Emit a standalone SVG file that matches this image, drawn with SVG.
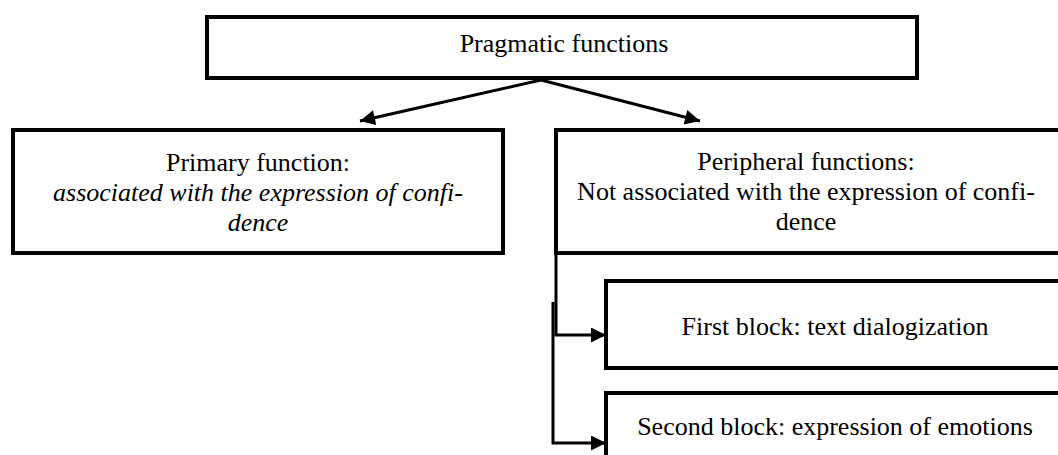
<svg xmlns="http://www.w3.org/2000/svg" width="1058" height="455" viewBox="0 0 1058 455">
  <defs>
    <style>
      .box { fill: #ffffff; stroke: #000000; stroke-width: 4; }
      .t { font-size: 26px; fill: #000000; text-anchor: middle; }
      .it { font-style: italic; }
      .conn { fill: none; stroke: #000000; stroke-width: 3; }
    </style>
    <marker id="arrow" viewBox="0 0 10 10" refX="10" refY="5" markerWidth="6" markerHeight="5" markerUnits="strokeWidth" orient="auto">
      <path d="M0,0 L10,5 L0,10 Z" fill="#000000"/>
    </marker>
  </defs>
  <rect width="1058" height="455" fill="#ffffff"/>

  <g font-family="'Liberation Serif', 'DejaVu Serif', serif">
  <g id="node-pragmatic">
    <rect class="box" x="207" y="17" width="710" height="61"/>
    <text class="t" x="564" y="52">Pragmatic functions</text>
  </g>

  <g id="node-primary">
    <rect class="box" x="13" y="130" width="490" height="123"/>
    <text class="t" x="258" y="171">Primary function:</text>
    <text class="t it" x="258" y="201">associated with the expression of confi-</text>
    <text class="t it" x="258" y="231">dence</text>
  </g>

  <g id="node-peripheral">
    <rect class="box" x="556" y="130" width="510" height="123"/>
    <text class="t" x="806" y="170">Peripheral functions:</text>
    <text class="t" x="806" y="200">Not associated with the expression of confi-</text>
    <text class="t" x="806" y="230">dence</text>
  </g>

  <g id="node-first">
    <rect class="box" x="606" y="281" width="470" height="87"/>
    <text class="t" x="835" y="335">First block: text dialogization</text>
  </g>

  <g id="node-second">
    <rect class="box" x="606" y="393" width="470" height="87"/>
    <text class="t" x="835" y="435">Second block: expression of emotions</text>
  </g>
  </g>

  <g id="connectors">
    <line class="conn" x1="541" y1="80" x2="360" y2="121" marker-end="url(#arrow)"/>
    <line class="conn" x1="541" y1="80" x2="700" y2="121" marker-end="url(#arrow)"/>
    <polyline class="conn" points="556,253 556,335 606,335" marker-end="url(#arrow)"/>
    <polyline class="conn" points="553,302 553,443 606,443" marker-end="url(#arrow)"/>
  </g>
</svg>
